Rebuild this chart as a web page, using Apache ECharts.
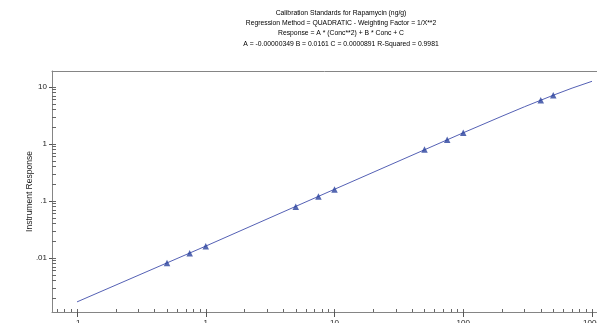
<!DOCTYPE html>
<html>
<head>
<meta charset="utf-8">
<script src="https://cdn.jsdelivr.net/npm/echarts@6/dist/echarts.min.js"></script>
<style>
html,body{margin:0;padding:0;background:#fff;}
#c{width:597px;height:323px;}
</style>
</head>
<body>
<div id="c"></div>
<script>
// Calibration standards (concentration ng/g, instrument response)
const stdConc = [0.5, 0.75, 1, 5, 7.5, 10, 50, 75, 100, 400, 500];
const stdResp = [0.0082, 0.0121, 0.0161, 0.0795, 0.120, 0.160, 0.805, 1.19, 1.58, 5.85, 7.15];
// Fitted calibration curve
const fitConc = [0.1, 1, 10, 100, 200, 300, 500, 700, 1000];
const fitResp = [0.0017, 0.0162, 0.1607, 1.575, 3.08, 4.52, 7.18, 9.56, 12.6];
// Tick labels
const xMajor = [0.1, 1, 10, 100, 1000];
const xMajorLabels = ['.1', '1', '10', '100', '1000'];
const yMajor = [0.01, 0.1, 1, 10];
const yMajorLabels = ['.01', '.1', '1', '10'];
const titleLines = [
  'Calibration Standards for Rapamycin (ng/g)',
  'Regression Method = QUADRATIC - Weighting Factor = 1/X**2',
  'Response = A * (Conc**2) + B * Conc + C',
  'A = -0.00000349 B = 0.0161 C = 0.0000891 R-Squared = 0.9981'
];

function minors(lo, hi) {
  const out = [];
  for (let e = lo; e <= hi; e++) {
    for (let m = 1; m <= 9; m++) out.push(m * Math.pow(10, e));
  }
  return out;
}
const xMinor = minors(-2, 3);
const yMinor = minors(-3, 1);

const xMin = 0.0639, xMax = 1093.5;
const yMin = 0.00113, yMax = 19.1;
const axisColor = '#858585';
const font = 'Liberation Sans, Arial, sans-serif';

function fmt(list, labels) {
  return function (v) {
    const i = list.findIndex(t => Math.abs(Math.log10(t) - Math.log10(v)) < 1e-6);
    return i >= 0 ? labels[i] : '';
  };
}

const chart = echarts.init(document.getElementById('c'), null, {renderer: 'canvas'});
chart.setOption({
  animation: false,
  backgroundColor: '#ffffff',
  title: {
    text: titleLines.join('\n'),
    left: 341, top: 8, textAlign: 'center', padding: 0,
    textStyle: {fontSize: 6.8, fontWeight: 'normal', color: '#000', fontFamily: font, lineHeight: 10.2}
  },
  grid: {
    left: 52, top: 71, bottom: 11, right: 0,
    show: false, containLabel: false, outerBoundsMode: 'none'
  },
  xAxis: [
    {
      type: 'log', min: xMin, max: xMax, logBase: 10,
      axisLine: {show: true, lineStyle: {color: axisColor, width: 1}},
      axisTick: {show: true, inside: false, length: 5, customValues: xMajor, lineStyle: {color: '#555'}},
      axisLabel: {show: true, customValues: xMajor, margin: 7, fontSize: 8, color: '#222', fontFamily: font,
        hideOverlap: false, formatter: fmt(xMajor, xMajorLabels)},
      splitLine: {show: false}
    },
    {
      type: 'log', min: xMin, max: xMax, position: 'bottom', logBase: 10,
      axisLine: {show: false},
      axisTick: {show: true, inside: true, length: 3, customValues: xMinor.filter(v => v >= xMin && v <= xMax), lineStyle: {color: '#666'}},
      axisLabel: {show: false},
      splitLine: {show: false}
    },
    {
      type: 'log', min: xMin, max: xMax, position: 'top', logBase: 10,
      axisLine: {show: true, lineStyle: {color: axisColor, width: 1}},
      axisTick: {show: false},
      axisLabel: {show: false},
      splitLine: {show: false}
    }
  ],
  yAxis: [
    {
      type: 'log', min: yMin, max: yMax, logBase: 10,
      name: 'Instrument Response', nameLocation: 'middle', nameGap: 18, nameMoveOverlap: false,
      nameTextStyle: {fontSize: 8.5, color: '#222', fontFamily: font},
      axisLine: {show: true, lineStyle: {color: axisColor, width: 1}},
      axisTick: {show: true, inside: false, length: 3, customValues: yMajor, lineStyle: {color: '#555'}},
      axisLabel: {show: true, customValues: yMajor, margin: 5, fontSize: 8, color: '#222', fontFamily: font,
        formatter: fmt(yMajor, yMajorLabels)},
      splitLine: {show: false}
    },
    {
      type: 'log', min: yMin, max: yMax, position: 'left', logBase: 10,
      axisLine: {show: false},
      axisTick: {show: true, inside: true, length: 4, customValues: yMinor.filter(v => v >= yMin && v <= yMax), lineStyle: {color: '#666'}},
      axisLabel: {show: false},
      splitLine: {show: false}
    }
  ],
  series: [
    {
      type: 'line', xAxisIndex: 0, yAxisIndex: 0,
      data: fitConc.map((c, i) => [c, fitResp[i]]),
      showSymbol: false, symbol: 'none', smooth: false,
      lineStyle: {color: '#5561b5', width: 1},
      silent: true, z: 2
    },
    {
      type: 'scatter', xAxisIndex: 0, yAxisIndex: 0,
      data: stdConc.map((c, i) => [c, stdResp[i]]),
      symbol: 'triangle', symbolSize: 6.5,
      itemStyle: {color: '#2a429e'},
      z: 3
    }
  ]
});
</script>
</body>
</html>
